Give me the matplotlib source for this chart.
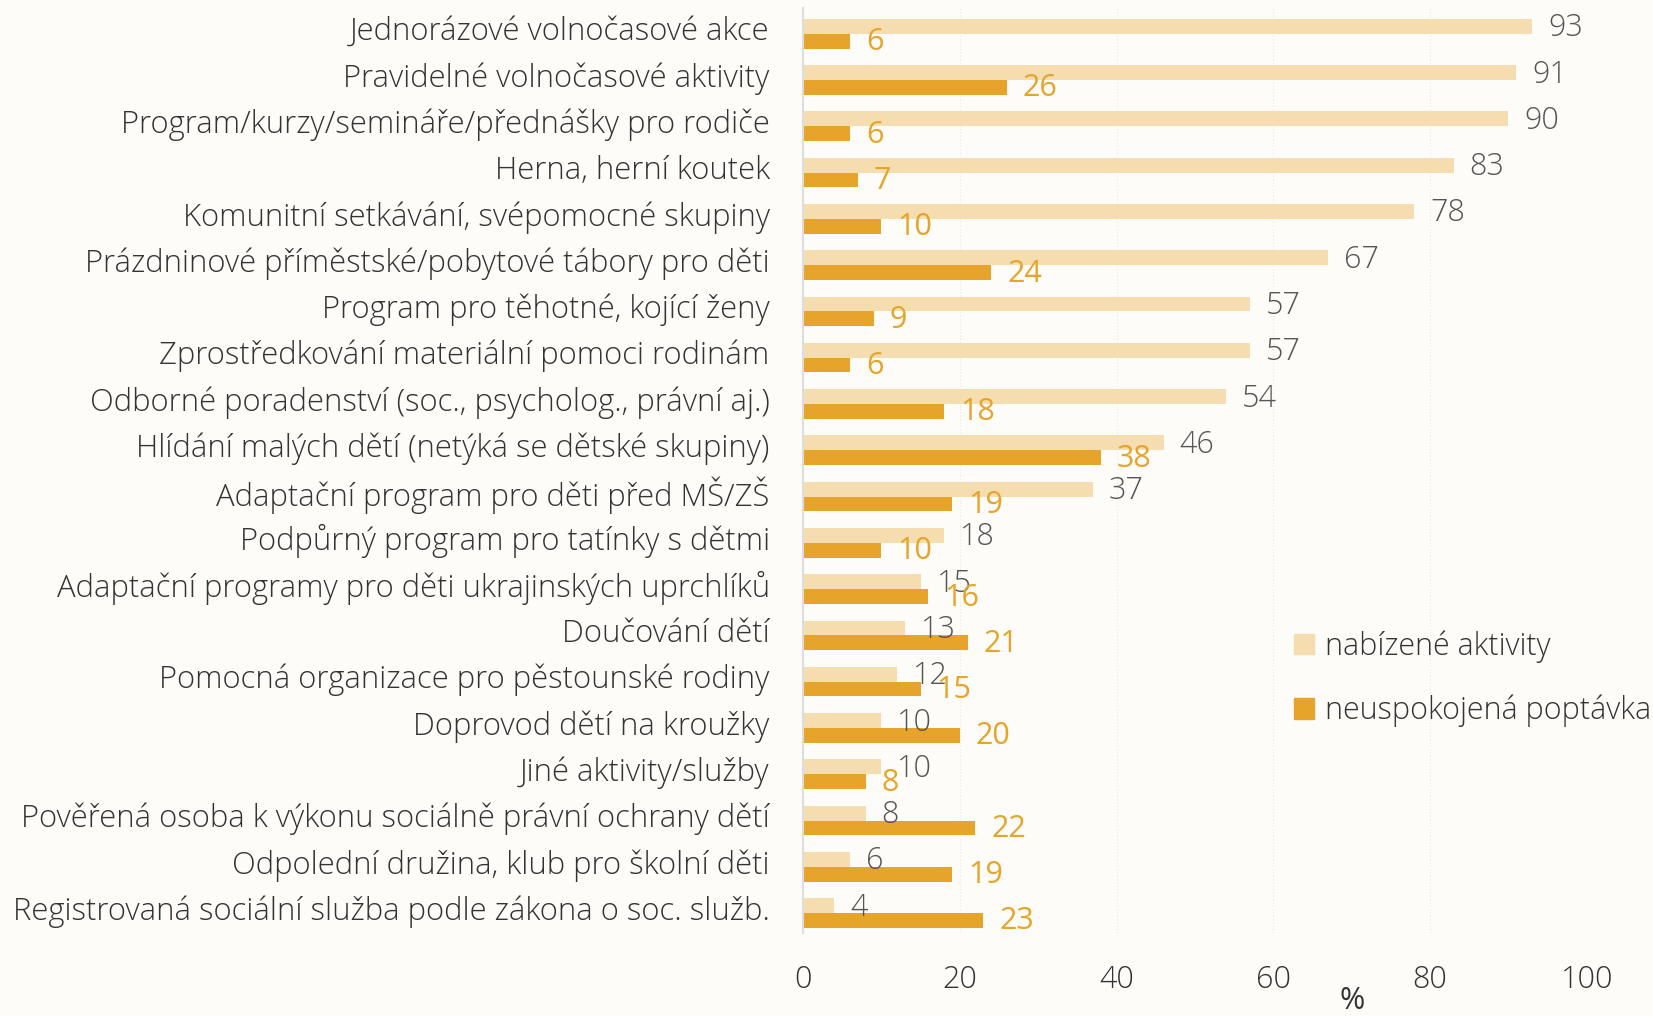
import numpy as np
import matplotlib
matplotlib.use("Agg")
from matplotlib import pyplot as plt
from matplotlib import transforms
from matplotlib.patches import Patch

categories = [
    "Jednorázové volnočasové akce",
    "Pravidelné volnočasové aktivity",
    "Program/kurzy/semináře/přednášky pro rodiče",
    "Herna, herní koutek",
    "Komunitní setkávání, svépomocné skupiny",
    "Prázdninové příměstské/pobytové tábory pro děti",
    "Program pro těhotné, kojící ženy",
    "Zprostředkování materiální pomoci rodinám",
    "Odborné poradenství (soc., psycholog., právní aj.)",
    "Hlídání malých dětí (netýká se dětské skupiny)",
    "Adaptační program pro děti před MŠ/ZŠ",
    "Podpůrný program pro tatínky s dětmi",
    "Adaptační programy pro děti ukrajinských uprchlíků",
    "Doučování dětí",
    "Pomocná organizace pro pěstounské rodiny",
    "Doprovod dětí na kroužky",
    "Jiné aktivity/služby",
    "Pověřená osoba k výkonu sociálně právní ochrany dětí",
    "Odpolední družina, klub pro školní děti",
    "Registrovaná sociální služba podle zákona o soc. služb.",
]
offered = [93, 91, 90, 83, 78, 67, 57, 57, 54, 46, 37, 18, 15, 13, 12, 10, 10, 8, 6, 4]
unmet = [6, 26, 6, 7, 10, 24, 9, 6, 18, 38, 19, 10, 16, 21, 15, 20, 8, 22, 19, 23]
series_names = ["nabízené aktivity", "neuspokojená poptávka"]
xticks = [0, 20, 40, 60, 80, 100]

BG = "#fdfcf8"
LIGHT = "#f5ddb0"
DARK = "#e6a42a"
TEXT = "#333333"
GREY = "#555555"
FS = 22.3
FS_VAL = 22

plt.rcParams['font.family'] = ['Open Sans', 'DejaVu Sans']
plt.rcParams['font.weight'] = 'light'

fig = plt.figure(figsize=(16.53, 10.16), dpi=100, facecolor=BG)
ax = fig.add_axes([0.4858, 0.0817, 0.960 - 0.4858, 0.9917 - 0.0817], facecolor=BG)

y = np.arange(len(categories))
h = 0.32
ax.barh(y - h / 2, offered, height=h, color=LIGHT, zorder=2)
ax.barh(y + h / 2, unmet, height=h, color=DARK, zorder=2)

# value labels next to each bar
for yi, v in zip(y, offered):
    ax.annotate(str(v), (v, yi - h / 2), xytext=(16, -2), textcoords='offset pixels',
                va='center', ha='left', fontsize=FS_VAL, color=GREY, zorder=3)
for yi, v in zip(y, unmet):
    ax.annotate(str(v), (v, yi + h / 2), xytext=(16, -1), textcoords='offset pixels',
                va='center', ha='left', fontsize=FS_VAL, color=DARK, weight='normal', zorder=3)

ax.set_xlim(0, 100)
ax.set_ylim(19.43, -0.546)
ax.set_xticks(xticks)
ax.set_yticks(y)
ax.set_yticklabels(categories)
ax.tick_params(axis='y', length=0, pad=24, labelsize=FS, labelcolor=TEXT)
ax.tick_params(axis='x', length=0, pad=22, labelsize=FS_VAL, labelcolor=TEXT)

# category labels sit a touch above the bar pair centre
shift = transforms.ScaledTranslation(0, 4 / 72, fig.dpi_scale_trans)
for lbl in ax.get_yticklabels():
    lbl.set_transform(lbl.get_transform() + shift)

ax.grid(axis='x', color='#e8e8e8', linestyle=(0, (1, 2)), linewidth=0.8, zorder=0)
for s in ['top', 'right', 'bottom']:
    ax.spines[s].set_visible(False)
ax.spines['left'].set_color('#dddddd')
ax.spines['left'].set_linewidth(1.5)

ax.set_xlabel("%", fontsize=FS_VAL, color=TEXT)
ax.xaxis.set_label_coords(0.70, -0.074)
ax.xaxis.label.set_verticalalignment('center')

handles = [Patch(color=LIGHT), Patch(color=DARK)]
fig.legend(handles, series_names, loc='center left', bbox_to_anchor=(0.783, 0.332),
           frameon=False, fontsize=FS_VAL, labelcolor=TEXT, handlelength=0.65,
           handleheight=0.65, handletextpad=0.35, labelspacing=1.05, borderpad=0,
           borderaxespad=0)

fig.savefig("out.png", dpi=100, facecolor=BG)
